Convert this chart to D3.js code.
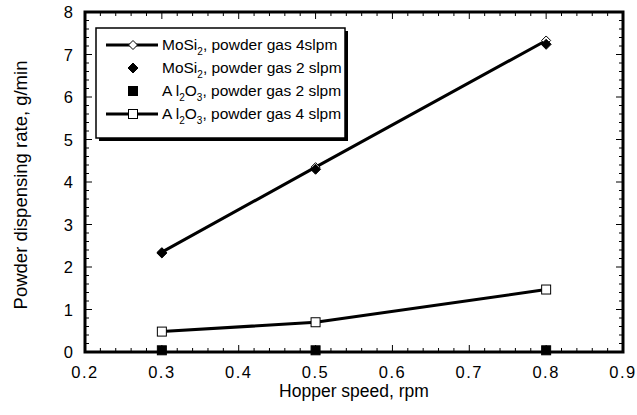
<!DOCTYPE html>
<html>
<head>
<meta charset="utf-8">
<script src="https://cdn.jsdelivr.net/npm/d3@7"></script>
<style>
  body { margin: 0; background: #fff; }
  text { font-family: "Liberation Sans", Arial, sans-serif; fill: #000; }
</style>
</head>
<body>
<div id="chart"></div>
<script>
// data
const speeds = [0.3, 0.5, 0.8];
const mosi4 = [2.35, 4.35, 7.33];
const mosi2 = [2.33, 4.30, 7.24];
const al2 = [0.04, 0.04, 0.04];
const al4 = [0.48, 0.70, 1.47];
const xTicks = [0.2, 0.3, 0.4, 0.5, 0.6, 0.7, 0.8, 0.9];
const yTicks = [0, 1, 2, 3, 4, 5, 6, 7, 8];

const width = 637, height = 415;
const margin = {top: 12, right: 14, bottom: 63, left: 85};

const svg = d3.select('#chart').append('svg')
  .attr('width', width)
  .attr('height', height);

const x = d3.scaleLinear().domain([0.2, 0.9]).range([margin.left, width - margin.right]);
const y = d3.scaleLinear().domain([0, 8]).range([height - margin.bottom, margin.top]);

const x0 = x.range()[0], x1 = x.range()[1];
const y0 = y.range()[0], y1 = y.range()[1];

// ticks, inward on all four sides
const xMinor = d3.range(0.2, 0.9001, 0.02);
const yMinor = d3.range(0, 8.001, 0.2);
const ticks = svg.append('g').attr('stroke', '#000').attr('stroke-width', 1);

xMinor.forEach(v => {
  const major = Math.abs(v * 10 - Math.round(v * 10)) < 1e-6;
  const len = major ? 7 : 4;
  ticks.append('line').attr('x1', x(v)).attr('x2', x(v)).attr('y1', y0).attr('y2', y0 - len);
  ticks.append('line').attr('x1', x(v)).attr('x2', x(v)).attr('y1', y1).attr('y2', y1 + len);
});
yMinor.forEach(v => {
  const major = Math.abs(v - Math.round(v)) < 1e-6;
  const len = major ? 7 : 4;
  ticks.append('line').attr('y1', y(v)).attr('y2', y(v)).attr('x1', x0).attr('x2', x0 + len);
  ticks.append('line').attr('y1', y(v)).attr('y2', y(v)).attr('x1', x1).attr('x2', x1 - len);
});

svg.append('rect')
  .attr('x', x0).attr('y', y1)
  .attr('width', x1 - x0).attr('height', y0 - y1)
  .attr('fill', 'none').attr('stroke', '#000').attr('stroke-width', 3);

// tick labels
svg.append('g').selectAll('text').data(xTicks).enter().append('text')
  .attr('x', d => x(d)).attr('y', y0 + 26)
  .attr('text-anchor', 'middle')
  .style('font-size', '16.5px')
  .style('letter-spacing', '1.5px')
  .text(d => d.toFixed(1));

svg.append('g').selectAll('text').data(yTicks).enter().append('text')
  .attr('x', x0 - 12).attr('y', d => y(d) + 6)
  .attr('text-anchor', 'end')
  .style('font-size', '16.5px')
  .text(d => d);

svg.append('text')
  .attr('x', (x0 + x1) / 2).attr('y', 397)
  .attr('text-anchor', 'middle')
  .style('font-size', '17.5px')
  .text('Hopper speed, rpm');

svg.append('text')
  .attr('transform', `translate(27, 185) rotate(-90)`)
  .attr('text-anchor', 'middle')
  .style('font-size', '18.5px')
  .text('Powder dispensing rate, g/min');

// lines
const line = d3.line().x(d => x(d[0])).y(d => y(d[1]));
const plot = svg.append('g');

plot.append('path').datum(d3.zip(speeds, mosi4))
  .attr('d', line).attr('fill', 'none').attr('stroke', '#000').attr('stroke-width', 3);
plot.append('path').datum(d3.zip(speeds, al4))
  .attr('d', line).attr('fill', 'none').attr('stroke', '#000').attr('stroke-width', 3);

const diamond = (g, cx, cy, r, filled) => g.append('path')
  .attr('d', `M${cx},${cy - r}L${cx + r},${cy}L${cx},${cy + r}L${cx - r},${cy}Z`)
  .attr('fill', filled ? '#000' : '#fff').attr('stroke', '#000').attr('stroke-width', 1);
const square = (g, cx, cy, s, filled) => g.append('rect')
  .attr('x', cx - s / 2).attr('y', cy - s / 2).attr('width', s).attr('height', s)
  .attr('fill', filled ? '#000' : '#fff').attr('stroke', '#000').attr('stroke-width', 1);

speeds.forEach((s, i) => {
  diamond(plot, x(s), y(mosi4[i]), 4.5, false);
  diamond(plot, x(s), y(mosi2[i]), 5, true);
  square(plot, x(s), y(al4[i]), 9, false);
  square(plot, x(s), y(al2[i]), 9, true);
});

// legend
const lg = svg.append('g');
const lx = 96, ly = 28, lw = 249, lh = 110;
lg.append('rect').attr('x', lx + 3).attr('y', ly + 3).attr('width', lw).attr('height', lh).attr('fill', '#000');
lg.append('rect').attr('x', lx).attr('y', ly).attr('width', lw).attr('height', lh)
  .attr('fill', '#fff').attr('stroke', '#000').attr('stroke-width', 1.5);

const rows = [
  {mat: 'mo', gas: '4slpm', line: true, mark: 'diamond', filled: false},
  {mat: 'mo', gas: '2 slpm', line: false, mark: 'diamond', filled: true},
  {mat: 'al', gas: '2 slpm', line: false, mark: 'square', filled: true},
  {mat: 'al', gas: '4 slpm', line: true, mark: 'square', filled: false}
];
rows.forEach((r, i) => {
  const ry = ly + 17 + i * 23;
  const mx = lx + 37;
  if (r.line) {
    lg.append('line').attr('x1', lx + 10).attr('x2', lx + 62).attr('y1', ry).attr('y2', ry)
      .attr('stroke', '#000').attr('stroke-width', 3);
  }
  if (r.mark === 'diamond') diamond(lg, mx, ry, r.filled ? 5 : 4.5, r.filled);
  else square(lg, mx, ry, 9, r.filled);

  const t = lg.append('text').attr('x', lx + 66).attr('y', ry + 5).style('font-size', '15.5px');
  if (r.mat === 'mo') {
    t.append('tspan').text('MoSi');
    t.append('tspan').attr('dy', 5).style('font-size', '10px').text('2');
    t.append('tspan').attr('dy', -5).text(', powder gas ' + r.gas);
  } else {
    t.append('tspan').text('A l');
    t.append('tspan').attr('dy', 5).style('font-size', '10px').text('2');
    t.append('tspan').attr('dy', -5).text('O');
    t.append('tspan').attr('dy', 5).style('font-size', '10px').text('3');
    t.append('tspan').attr('dy', -5).text(', powder gas ' + r.gas);
  }
});
</script>
</body>
</html>
